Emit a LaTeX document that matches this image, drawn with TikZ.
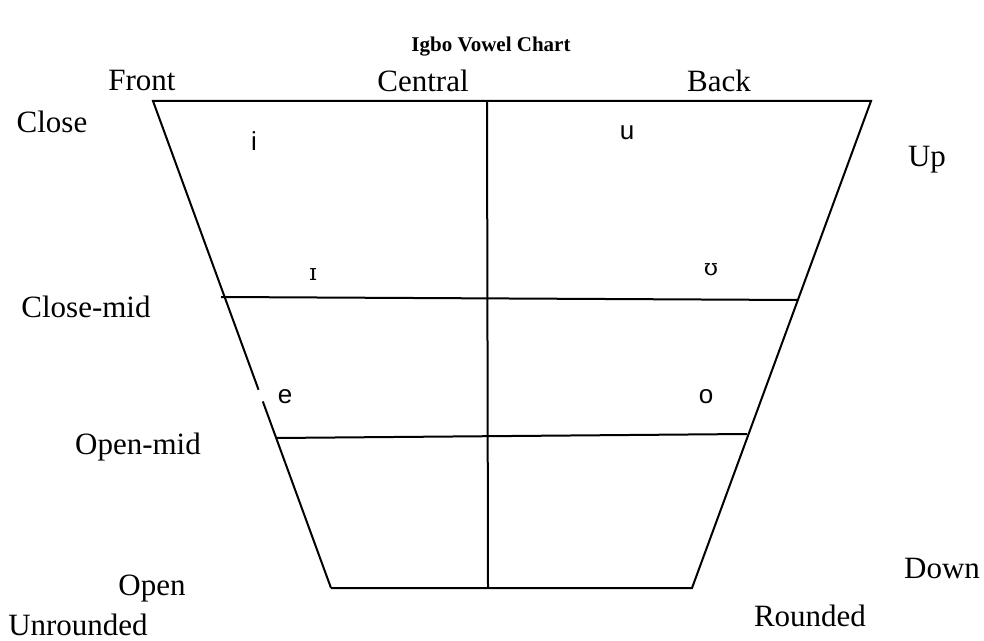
\documentclass[tikz,border=0pt]{standalone}
\usepackage{fontspec}
\setmainfont{Liberation Serif}
\newfontfamily\vsans{Liberation Sans}
\newfontfamily\ipafont{DejaVu Serif}
\usetikzlibrary{calc}

\tikzset{
  lbl/.style={font=\fontsize{15.5}{18}\selectfont, inner sep=0pt},
  vowel/.style={font=\vsans\fontsize{13}{15}\selectfont, inner sep=0pt},
  ipa/.style={font=\ipafont\fontsize{11.5}{13}\selectfont, inner sep=0pt}
}

\begin{document}
\begin{tikzpicture}[x=0.5pt,y=-0.5pt,line width=1pt]
		\useasboundingbox (0,0) rectangle (984,641);
		\coordinate (tl) at (153,101);
		\coordinate (tr) at (871,101);
		\coordinate (bl) at (331,588);
		\coordinate (br) at (692,588);
		\coordinate (ct) at (487,101);
		\coordinate (cb) at (488,588);
		\coordinate (cml) at (221,297);
		\coordinate (cmr) at (797,300);
		\coordinate (oml) at (276,438);
		\coordinate (omr) at (747,434);
		\draw (bl) -- (br) -- (tr) -- (tl) -- ($(tl)!0.593!(bl)$);
		\draw ($(tl)!0.617!(bl)$) -- (bl);
		\draw (ct) -- (cb);
		\draw (cml) -- (cmr);
		\draw (oml) -- (omr);
		\node[font=\bfseries\fontsize{10.5}{12}\selectfont] (title) at (491,47) {Igbo Vowel Chart};
		\node[lbl] (front) at (142,81) {Front};
		\node[lbl] (central) at (423,81) {Central};
		\node[lbl] (back) at (719,81) {Back};
		\node[lbl] (close) at (52,122) {Close};
		\node[lbl] (up) at (927,160) {Up};
		\node[lbl] (closemid) at (86,307) {Close-mid};
		\node[lbl] (openmid) at (138,447) {Open-mid};
		\node[lbl] (open) at (152,589) {Open};
		\node[lbl] (down) at (942,568) {Down};
		\node[lbl] (unrounded) at (78,625) {Unrounded};
		\node[lbl] (rounded) at (810,616) {Rounded};
		\node[vowel] (i) at (254,141) {i};
		\node[vowel] (u) at (627,133) {u};
		\node[ipa] (ismall) at (313,275) {ɪ};
		\node[ipa] (upsilon) at (711,270) {ʊ};
		\node[vowel] (e) at (285,397) {e};
		\node[vowel] (o) at (706,397) {o};
	\end{tikzpicture}
\end{document}
